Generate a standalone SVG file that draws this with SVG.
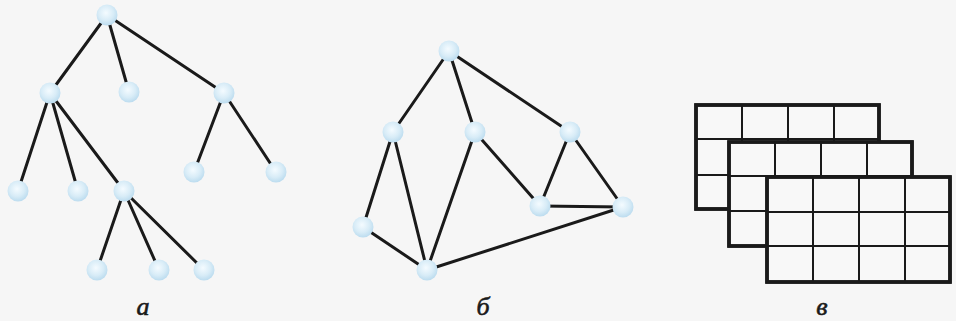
<svg xmlns="http://www.w3.org/2000/svg" width="956" height="321" viewBox="0 0 956 321">
<defs>
<radialGradient id="g" cx="0.45" cy="0.4" r="0.6">
<stop offset="0" stop-color="#f4fbff"/>
<stop offset="0.6" stop-color="#d8ecf7"/>
<stop offset="1" stop-color="#bcdcef"/>
</radialGradient>
</defs>
<style>
.e{stroke:#1a1a1a;stroke-width:3;stroke-linecap:round}
.n{fill:url(#g)}
.lbl{font-family:"Liberation Serif",serif;font-style:italic;font-size:26px;fill:#1a1a1a;stroke:#1a1a1a;stroke-width:0.6;text-anchor:middle}
.box{fill:#f8f8f8;stroke:#1a1a1a;stroke-width:3.5}
.gl{stroke:#1a1a1a;stroke-width:2}
</style>
<rect width="956" height="321" fill="#f6f6f6"/>
<g id="connectors">
<line class="e" x1="107" y1="15" x2="50" y2="93"/>
<line class="e" x1="107" y1="15" x2="129" y2="92"/>
<line class="e" x1="107" y1="15" x2="224" y2="93"/>
<line class="e" x1="50" y1="93" x2="18" y2="191"/>
<line class="e" x1="50" y1="93" x2="78" y2="191"/>
<line class="e" x1="50" y1="93" x2="124" y2="191"/>
<line class="e" x1="224" y1="93" x2="194" y2="172"/>
<line class="e" x1="224" y1="93" x2="276" y2="172"/>
<line class="e" x1="124" y1="191" x2="97" y2="270"/>
<line class="e" x1="124" y1="191" x2="159" y2="270"/>
<line class="e" x1="124" y1="191" x2="204" y2="270"/>
<line class="e" x1="449" y1="51" x2="393" y2="132"/>
<line class="e" x1="449" y1="51" x2="475" y2="132"/>
<line class="e" x1="449" y1="51" x2="570" y2="132"/>
<line class="e" x1="393" y1="132" x2="363" y2="227"/>
<line class="e" x1="393" y1="132" x2="427" y2="270"/>
<line class="e" x1="363" y1="227" x2="427" y2="270"/>
<line class="e" x1="475" y1="132" x2="427" y2="270"/>
<line class="e" x1="475" y1="132" x2="540" y2="206"/>
<line class="e" x1="570" y1="132" x2="540" y2="206"/>
<line class="e" x1="570" y1="132" x2="623" y2="207"/>
<line class="e" x1="540" y1="206" x2="623" y2="207"/>
<line class="e" x1="427" y1="270" x2="623" y2="207"/>
</g>
<g id="tree-a">
<circle id="a1" class="n" cx="107" cy="15" r="10.5"/>
<circle id="a2" class="n" cx="50" cy="93" r="10.5"/>
<circle id="a3" class="n" cx="129" cy="92" r="10.5"/>
<circle id="a4" class="n" cx="224" cy="93" r="10.5"/>
<circle id="a5" class="n" cx="18" cy="191" r="10.5"/>
<circle id="a6" class="n" cx="78" cy="191" r="10.5"/>
<circle id="a7" class="n" cx="124" cy="191" r="10.5"/>
<circle id="a8" class="n" cx="194" cy="172" r="10.5"/>
<circle id="a9" class="n" cx="276" cy="172" r="10.5"/>
<circle id="a10" class="n" cx="97" cy="270" r="10.5"/>
<circle id="a11" class="n" cx="159" cy="270" r="10.5"/>
<circle id="a12" class="n" cx="204" cy="270" r="10.5"/>
<text class="lbl" x="143" y="315">а</text>
</g>
<g id="graph-b">
<circle id="b1" class="n" cx="449" cy="51" r="10.5"/>
<circle id="b2" class="n" cx="393" cy="132" r="10.5"/>
<circle id="b3" class="n" cx="475" cy="132" r="10.5"/>
<circle id="b4" class="n" cx="570" cy="132" r="10.5"/>
<circle id="b5" class="n" cx="363" cy="227" r="10.5"/>
<circle id="b6" class="n" cx="427" cy="270" r="10.5"/>
<circle id="b7" class="n" cx="540" cy="206" r="10.5"/>
<circle id="b8" class="n" cx="623" cy="207" r="10.5"/>
<text class="lbl" x="483" y="315">б</text>
</g>
<g id="tables-c">
<g id="t1">
<rect class="box" x="696" y="105" width="183" height="104"/>
<line class="gl" x1="742" y1="105" x2="742" y2="209"/>
<line class="gl" x1="788" y1="105" x2="788" y2="209"/>
<line class="gl" x1="834" y1="105" x2="834" y2="209"/>
<line class="gl" x1="696" y1="139" x2="879" y2="139"/>
<line class="gl" x1="696" y1="175" x2="879" y2="175"/>
<rect x="696" y="105" width="183" height="104" fill="none" stroke="#1a1a1a" stroke-width="3.5"/>
</g>
<g id="t2">
<rect class="box" x="729" y="142" width="183" height="104"/>
<line class="gl" x1="775" y1="142" x2="775" y2="246"/>
<line class="gl" x1="821" y1="142" x2="821" y2="246"/>
<line class="gl" x1="867" y1="142" x2="867" y2="246"/>
<line class="gl" x1="729" y1="176" x2="912" y2="176"/>
<line class="gl" x1="729" y1="211" x2="912" y2="211"/>
<rect x="729" y="142" width="183" height="104" fill="none" stroke="#1a1a1a" stroke-width="3.5"/>
</g>
<g id="t3">
<rect class="box" x="767" y="177" width="183" height="105"/>
<line class="gl" x1="813" y1="177" x2="813" y2="282"/>
<line class="gl" x1="859" y1="177" x2="859" y2="282"/>
<line class="gl" x1="905" y1="177" x2="905" y2="282"/>
<line class="gl" x1="767" y1="212" x2="950" y2="212"/>
<line class="gl" x1="767" y1="246" x2="950" y2="246"/>
<rect x="767" y="177" width="183" height="105" fill="none" stroke="#1a1a1a" stroke-width="3.5"/>
</g>
<text class="lbl" x="822" y="315">в</text>
</g>
</svg>
